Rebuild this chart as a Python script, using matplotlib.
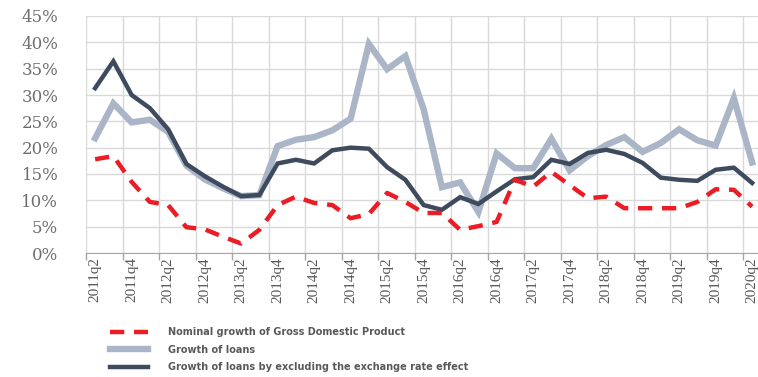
import matplotlib
matplotlib.use('Agg')
import matplotlib.pyplot as plt
import matplotlib.transforms as mtransforms
from matplotlib.ticker import FuncFormatter
import numpy as np

# quarters 2011q2 .. 2020q2
quarters = ['%dq%d' % (y, q) for y in range(2011, 2021) for q in range(1, 5)]
quarters = quarters[1:quarters.index('2020q2') + 1]

gdp = [17.8, 18.4, 13.5, 9.7, 9.1, 4.9, 4.5, 3.1, 1.8, 4.4,
       9.1, 10.7, 9.5, 9.1, 6.6, 7.4, 11.4, 9.7, 7.6, 7.6,
       4.4, 5.1, 5.9, 13.9, 12.6, 15.4, 12.9, 10.4, 10.7, 8.5,
       8.5, 8.5, 8.5, 9.7, 12.1, 12.0, 8.8]
loans = [21.8, 28.4, 24.8, 25.3, 23.0, 16.6, 14.0, 12.3, 10.8, 11.0,
         20.3, 21.5, 22.0, 23.3, 25.5, 39.7, 34.9, 37.4, 27.3, 12.5,
         13.4, 7.8, 18.9, 16.1, 16.1, 21.7, 15.7, 18.4, 20.5, 22.0,
         19.2, 20.9, 23.5, 21.4, 20.4, 29.4, 17.2]
loans_fx = [31.3, 36.4, 30.0, 27.5, 23.5, 16.9, 14.6, 12.6, 10.8, 11.0,
            17.0, 17.7, 17.0, 19.5, 20.0, 19.8, 16.3, 13.9, 9.1, 8.2,
            10.6, 9.3, 11.7, 14.0, 14.4, 17.7, 16.9, 19.0, 19.6, 18.8,
            17.1, 14.3, 13.9, 13.7, 15.8, 16.2, 13.3]

labels = ['Nominal growth of Gross Domestic Product',
          'Growth of loans',
          'Growth of loans by excluding the exchange rate effect']

W, H = 758, 377
fig = plt.figure(figsize=(W / 100, H / 100), dpi=100)
ax = fig.add_axes([86 / W, 1 - 253 / H, (W - 86) / W, (253 - 16) / H])

x = np.arange(len(quarters))
l2, = ax.plot(x, loans, color='#aab5c7', lw=4.6, solid_joinstyle='miter',
              label=labels[1])
l3, = ax.plot(x, loans_fx, color='#3e4a5d', lw=3.2, solid_joinstyle='miter',
              label=labels[2])
l1, = ax.plot(x, gdp, color='#ec1c24', lw=3.2, dashes=(3.2, 2.2),
              label=labels[0])

ax.set_ylim(0, 45)
ax.set_xlim(-0.5, -0.5 + (W - 86) / 18.25)
ax.set_yticks(np.arange(0, 46, 5))
ax.yaxis.set_major_formatter(FuncFormatter(lambda v, p: '%d%%' % v))
ax.set_xticks(x[::2])
ax.set_xticklabels(quarters[::2], rotation=90, family='Liberation Serif',
                   fontsize=11, color='#595959')
ax.set_xticks(np.arange(-0.5, len(quarters), 2), minor=True)

# last label sits at the right edge, nudge it in a bit
last = ax.get_xticklabels()[-1]
last.set_transform(last.get_transform() +
                   mtransforms.ScaledTranslation(-3 / 100, 0, fig.dpi_scale_trans))

for s in ['top', 'right', 'left']:
    ax.spines[s].set_visible(False)
ax.spines['bottom'].set_color('#a6a6a6')
ax.tick_params(axis='x', which='major', length=0, pad=3)
ax.tick_params(axis='x', which='minor', length=5, color='#a6a6a6', width=1)
ax.tick_params(axis='y', length=0, pad=20, labelcolor='#6e6e6e')
for t in ax.get_yticklabels():
    t.set_family('DejaVu Serif')
    t.set_fontsize(12)
ax.grid(which='minor', axis='x', color='#d9d9d9', lw=1)
ax.grid(which='major', axis='y', color='#d9d9d9', lw=1)
ax.set_axisbelow(True)

fig.legend(handles=[l1, l2, l3], loc='upper left',
           bbox_to_anchor=(110 / W, 1 - 327 / H), frameon=False,
           prop={'family': 'DejaVu Sans', 'weight': 'bold', 'size': 7},
           labelcolor='#595959', handlelength=3.9, handletextpad=2.1,
           labelspacing=0.78, borderpad=0, borderaxespad=0)

fig.savefig('out.png', dpi=100)
